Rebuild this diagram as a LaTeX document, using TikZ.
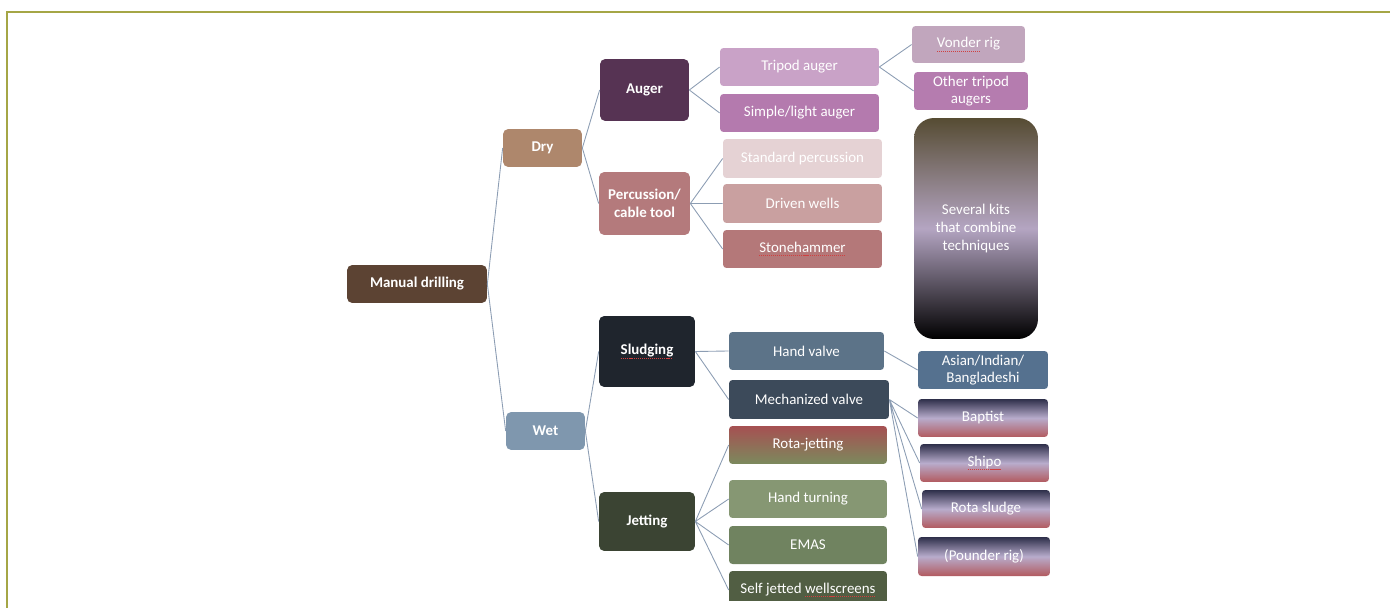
\documentclass[tikz,border=0pt]{standalone}
\usepackage{fontspec}
\setmainfont{Carlito}
\definecolor{framec}{HTML}{A5A646}
\definecolor{linkc}{HTML}{8C9DB3}
\definecolor{spellred}{HTML}{D04040}
\definecolor{mdrill}{HTML}{5C4333}
\definecolor{dryc}{HTML}{AE876C}
\definecolor{wetc}{HTML}{7F97AE}
\definecolor{augerc}{HTML}{563353}
\definecolor{percc}{HTML}{B47A7C}
\definecolor{sludgc}{HTML}{1F252D}
\definecolor{jetc}{HTML}{3B4433}
\definecolor{tripodc}{HTML}{C9A2C7}
\definecolor{simplec}{HTML}{B47AAE}
\definecolor{stdpercc}{HTML}{E5D2D4}
\definecolor{drivenc}{HTML}{C9A0A0}
\definecolor{stonec}{HTML}{B47879}
\definecolor{vonderc}{HTML}{C1A6BD}
\definecolor{othtric}{HTML}{B57CAF}
\definecolor{asianc}{HTML}{55718F}
\definecolor{hvalvec}{HTML}{5C7388}
\definecolor{mvalvec}{HTML}{3C4A5A}
\definecolor{hturnc}{HTML}{869773}
\definecolor{emasc}{HTML}{708360}
\definecolor{selfjc}{HTML}{515E43}
\definecolor{navyc}{HTML}{2E2F4A}
\definecolor{lavc}{HTML}{B8ACCC}
\definecolor{redc}{HTML}{B25A5F}
\definecolor{rjtop}{HTML}{A65052}
\definecolor{rjbot}{HTML}{7B8A5D}
\definecolor{kittop}{HTML}{564C33}
\definecolor{kitmid}{HTML}{B4A5C2}
\newcommand{\spellerr}[1]{\setbox0\hbox{#1}\rlap{\hbox to \wd0{\xleaders\hbox{\textcolor{spellred}{\rule[-0.55ex]{0.6pt}{0.4pt}}\kern0.5pt}\hfill}}#1}
\tikzset{
  box/.style={rectangle, rounded corners=2pt, fill=#1, text=white, inner sep=1pt,
    align=center, font=\fontsize{8.5}{10}\selectfont},
  boldbox/.style={box=#1, font=\fontsize{8.5}{10}\selectfont\bfseries, rounded corners=3pt},
  mixbox/.style={box=white, top color=navyc, bottom color=redc, middle color=lavc},
  link/.style={draw=linkc, line width=0.5pt}
}

\begin{document}
\begin{tikzpicture}[x=0.02cm, y=-0.02cm]
\useasboundingbox (0,0) rectangle (1390,608);
\draw[framec, line width=1.1pt] (7,608) -- (7,12) -- (1390,12);

% first levels
\node[boldbox=mdrill, minimum width=28mm, minimum height=7.6mm] (md) at (417,284) {Manual drilling};
\node[boldbox=dryc, minimum width=15.8mm, minimum height=7.6mm] (dry) at (542.5,148) {Dry};
\node[boldbox=wetc, minimum width=15.8mm, minimum height=7.6mm] (wet) at (545.5,431) {Wet};
\node[boldbox=augerc, minimum width=17.8mm, minimum height=12.4mm] (auger) at (644.5,90) {Auger};
\node[boldbox=percc, minimum width=18.2mm, minimum height=12.6mm] (perc) at (644.5,203.5) {Percussion/\\cable tool};
\node[boldbox=sludgc, minimum width=19.2mm, minimum height=14.2mm] (sludg) at (647,351.5) {\spellerr{Sludging}};
\node[boldbox=jetc, minimum width=19.2mm, minimum height=11.8mm] (jet) at (647,521.5) {Jetting};

% dry techniques
\node[box=tripodc, minimum width=31.8mm, minimum height=7.6mm] (tripod) at (799.5,67) {Tripod auger};
\node[box=simplec, minimum width=31.8mm, minimum height=7.6mm] (simple) at (799.5,113) {Simple/light auger};
\node[box=stdpercc, minimum width=31.8mm, minimum height=7.8mm] (stdperc) at (802.5,158.5) {Standard percussion};
\node[box=drivenc, minimum width=31.8mm, minimum height=7.8mm] (driven) at (802.5,203.5) {Driven wells};
\node[box=stonec, minimum width=31.8mm, minimum height=7.6mm] (stone) at (802.5,249) {\spellerr{Stonehammer}};
\node[box=vonderc, minimum width=22.6mm, minimum height=7.4mm] (vonder) at (968.5,44.5) {\spellerr{Vonder} rig};
\node[box=othtric, minimum width=22.8mm, minimum height=7.6mm] (othtri) at (971,91) {Other tripod\\augers};
\node[box=white, top color=kittop, bottom color=black, middle color=kitmid, rounded corners=4mm,
  minimum width=24.8mm, minimum height=44.2mm] (kits) at (976,228.5) {Several kits\\that combine\\techniques};

% wet techniques
\node[box=hvalvec, minimum width=31mm, minimum height=7.6mm] (hvalve) at (806.5,351) {Hand valve};
\node[box=mvalvec, minimum width=32mm, minimum height=7.8mm] (mvalve) at (809,399.5) {Mechanized valve};
\node[box=white, top color=rjtop, bottom color=rjbot, minimum width=31.6mm, minimum height=7.6mm] (rotajet) at (808,445) {Rota-jetting};
\node[box=hturnc, minimum width=31.6mm, minimum height=7.6mm] (hturn) at (808,499) {Hand turning};
\node[box=emasc, minimum width=31.6mm, minimum height=7.6mm] (emas) at (808,545) {EMAS};
\begin{scope}
\clip (0,0) rectangle (1390,600);
\node[box=selfjc, minimum width=31.6mm, minimum height=7.6mm] (selfj) at (808,590) {Self jetted \spellerr{wellscreens}};
\end{scope}
\node[box=asianc, minimum width=26mm, minimum height=7.6mm] (asian) at (983,370) {Asian/Indian/\\Bangladeshi};
\node[mixbox, minimum width=26mm, minimum height=7.6mm] (baptist) at (983,418) {Baptist};
\node[mixbox, minimum width=25.8mm, minimum height=7.6mm] (shipo) at (984.5,463) {\spellerr{Shipo}};
\node[mixbox, minimum width=25.6mm, minimum height=7.6mm] (rsludge) at (986,509) {Rota sludge};
\node[mixbox, minimum width=26.4mm, minimum height=7.8mm] (pounder) at (984,556.5) {(Pounder rig)};

\draw[link] (md.east) -- (dry.west) (md.east) -- (wet.west)
  (dry.east) -- (auger.west) (dry.east) -- (perc.west)
  (wet.east) -- (sludg.west) (wet.east) -- (jet.west)
  (auger.east) -- (tripod.west) (auger.east) -- (simple.west)
  (perc.east) -- (stdperc.west) (perc.east) -- (driven.west) (perc.east) -- (stone.west)
  (tripod.east) -- (vonder.west) (tripod.east) -- (othtri.west)
  (sludg.east) -- (hvalve.west) (sludg.east) -- (mvalve.west)
  (jet.east) -- (rotajet.west) (jet.east) -- (hturn.west) (jet.east) -- (emas.west) (jet.east) -- (selfj.west)
  (hvalve.east) -- (asian.west)
  (mvalve.east) -- (baptist.west) (mvalve.east) -- (shipo.west)
  (mvalve.east) -- (rsludge.west) (mvalve.east) -- (pounder.west);
\end{tikzpicture}
\end{document}
